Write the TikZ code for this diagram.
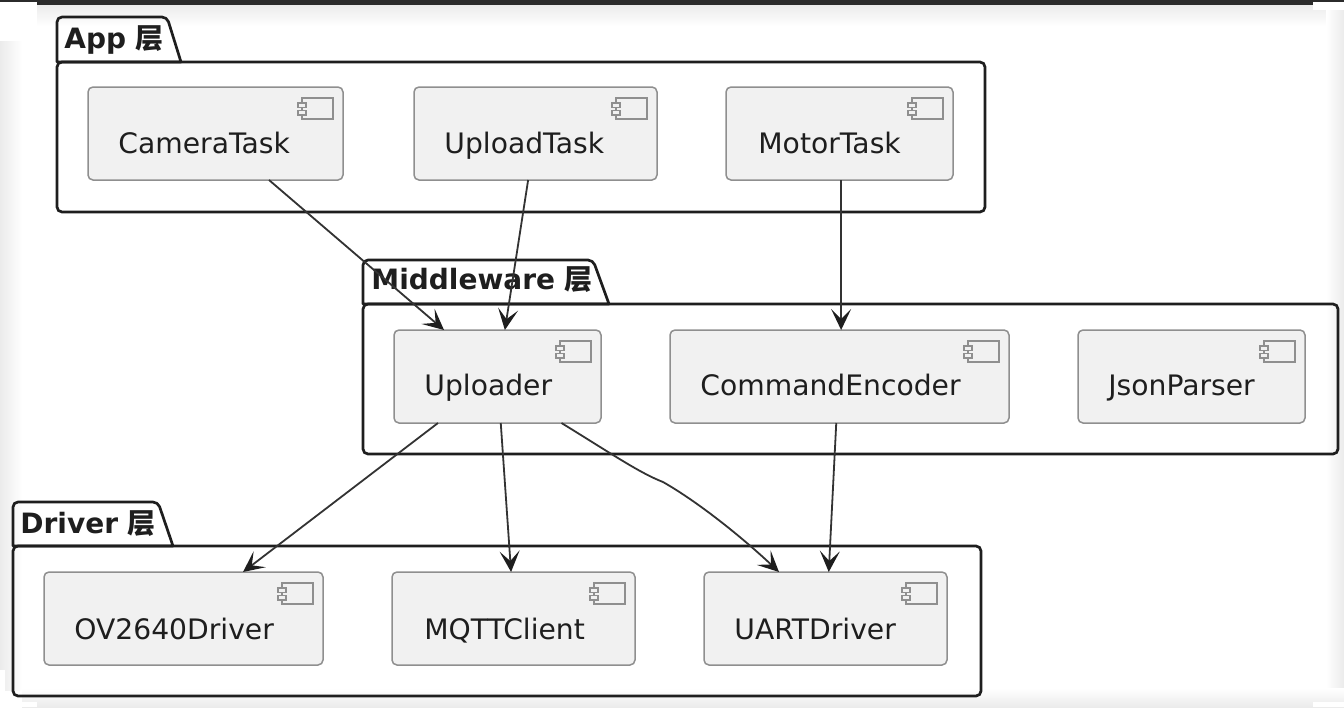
\documentclass[tikz,border=0pt]{standalone}
\usepackage{fontspec}
\setmainfont{DejaVu Sans}
\newfontfamily\cjk{Noto Sans CJK SC}
\usepackage{xcolor}
\usetikzlibrary{arrows.meta, shadings}

\definecolor{inkdark}{HTML}{1E1E1E}
\definecolor{barcol}{HTML}{2B2B2B}
\definecolor{arrowcol}{HTML}{333333}
\definecolor{compfill}{HTML}{F1F1F1}
\definecolor{compline}{HTML}{8F8F8F}
\definecolor{edgecol}{HTML}{EBEBEB}

\tikzset{
pkgframe/.style={draw=inkdark, line width=1.35pt, rounded corners=2.5pt, anchor=north west, outer sep=0pt, inner sep=0pt},
pkgtab/.style={draw=inkdark, line width=1.35pt, line join=round},
pkglabel/.style={anchor=base west, inner sep=0pt, font=\fontsize{14}{16}\selectfont\bfseries, text=inkdark},
compbox/.style={draw=compline, fill=compfill, line width=.75pt, rounded corners=2.5pt, anchor=north west, minimum height=46.5pt, outer sep=0pt, inner sep=0pt},
complabel/.style={anchor=base west, inner sep=0pt, font=\fontsize{14.1}{16}\selectfont, text=inkdark},
compicon/.style={draw=compline, fill=compfill, line width=.7pt},
link/.style={draw=arrowcol, line width=.9pt, -{Stealth[length=10.5pt, width=10pt, inset=5pt, color=inkdark]}}
}

\begin{document}
\begin{tikzpicture}[x=0.5pt, y=-0.5pt]
\useasboundingbox (0,0) rectangle (1344,707);

% screenshot edges
\fill[white] (0,0) rectangle (1344,707);
\shade[top color=edgecol, bottom color=white] (0,5) rectangle (1344,26);
\shade[left color=edgecol, right color=white] (0,5) rectangle (22,690);
\shade[left color=white, right color=edgecol] (1326,5) rectangle (1344,707);
\shade[top color=white, bottom color=edgecol] (22,688) rectangle (1344,707);
\fill[barcol] (0,0) rectangle (1344,5);
\fill[white] (0,2) rectangle (37,41);
\fill[white] (1313,2) rectangle (1344,10);
\fill[white] (0,670) rectangle (5,707);
\fill[white] (0,702) rectangle (37,707);
\fill[white] (1313,702) rectangle (1344,707);

% packages
\node[pkgframe, minimum width=464pt, minimum height=75pt] (AppPkg) at (57,62) {};
\draw[pkgtab] (AppPkg.north west) [rounded corners=2.5pt] -- (57,17) -- (167,17) [sharp corners] -- (181,62) -- cycle;
\node[pkglabel] (AppLabel) at (64,48) {App {\cjk 层}};

\node[pkgframe, minimum width=487.5pt, minimum height=75pt] (MiddlewarePkg) at (363,304) {};
\draw[pkgtab] (MiddlewarePkg.north west) [rounded corners=2.5pt] -- (363,260) -- (593,260) [sharp corners] -- (609,304) -- cycle;
\node[pkglabel] (MiddlewareLabel) at (371,289) {Middleware {\cjk 层}};

\node[pkgframe, minimum width=484pt, minimum height=75pt] (DriverPkg) at (13,546) {};
\draw[pkgtab] (DriverPkg.north west) [rounded corners=2.5pt] -- (13,502) -- (158,502) [sharp corners] -- (173,546) -- cycle;
\node[pkglabel] (DriverLabel) at (20,533) {Driver {\cjk 层}};

% components
\foreach \name/\xa/\ya/\xb/\pad/\base in {CameraTask/88/87/343/30/66, UploadTask/414/87/657/30/66, MotorTask/726/87/953/32/66,
  Uploader/394/330/601/30/65, CommandEncoder/670/330/1009/30/65, JsonParser/1078/330/1305/30/65,
  OV2640Driver/44/572/323/30/67, MQTTClient/392/572/635/32/67, UARTDriver/704/572/947/30/67}{
  \node[compbox, minimum width={(\xb-\xa)*0.5pt}] (\name) at (\xa,\ya) {};
  \node[complabel] (\name Label) at (\xa+\pad,\ya+\base) {\name};
  \draw[compicon] ([xshift=-20.5pt,yshift=-5.5pt]\name.north east) rectangle ++(15.5pt,-10.5pt);
  \draw[compicon] ([xshift=-22.5pt,yshift=-8pt]\name.north east) rectangle ++(4pt,-2.2pt);
  \draw[compicon] ([xshift=-22.5pt,yshift=-11.7pt]\name.north east) rectangle ++(4pt,-2.2pt);
}

% links
\coordinate (UartBend) at (663,482);
\draw[link] (CameraTask.-41) -- (Uploader.139);
\draw[link] (UploadTask.-99) -- (Uploader.81);
\draw[link] (MotorTask.-88) -- (CommandEncoder.88);
\draw[link] (Uploader.-142) -- (OV2640Driver.38);
\draw[link] (Uploader.-86) -- (MQTTClient.93);
\draw[link] (Uploader.-36) .. controls (615,456) and (640,473) .. (UartBend)
  .. controls (700,503) and (745,540) .. (UARTDriver.135);
\draw[link] (CommandEncoder.-94) -- (UARTDriver.86);
\end{tikzpicture}
\end{document}
